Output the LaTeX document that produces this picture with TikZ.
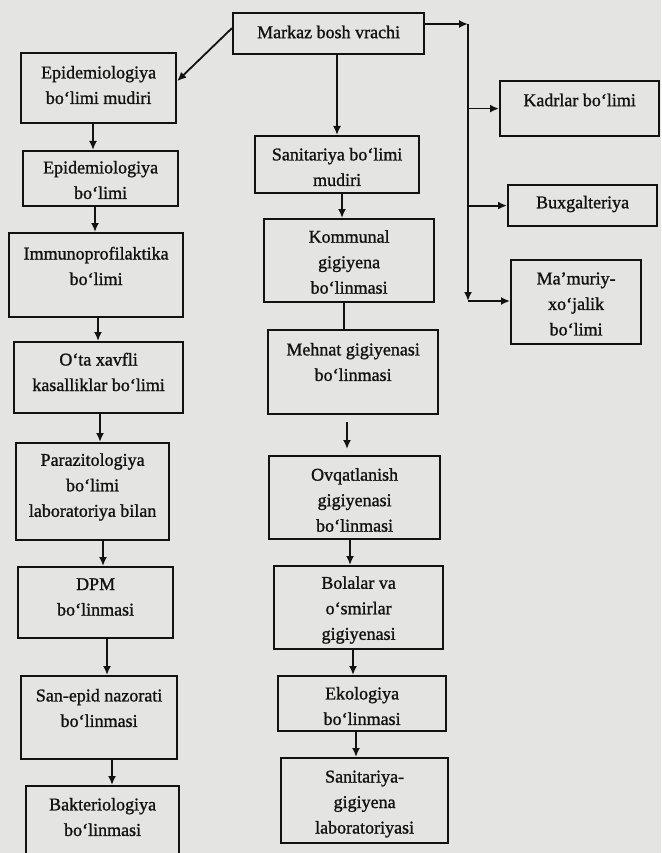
\documentclass[tikz,border=0pt]{standalone}
\usepackage{fontspec}
\setmainfont{Liberation Serif}[FakeBold=1.2]
\usetikzlibrary{arrows.meta,calc}
\definecolor{paper}{RGB}{228,228,226}
\definecolor{ink}{RGB}{18,18,18}
\tikzset{
 boxst/.style={draw=ink, line width=2.2pt, fill=paper, inner sep=0pt, anchor=north west},
 lbl/.style={align=center, font=\fontsize{18}{25.5}\selectfont, text=ink, inner sep=0pt},
 conn/.style={draw=ink, line width=1.8pt},
 arr/.style={conn, -{Latex[length=9pt,width=8pt]}},
}
\newcommand\mybox[7]{%
 \node[boxst, minimum width={(#4-#2)*1pt}, minimum height={(#5-#3)*1pt}] (#1) at (#2,#3) {};
 \node[lbl] (#1-t) at (#1.center |- 0,#6) {#7};
}
\begin{document}
\begin{tikzpicture}[x=1pt,y=-1pt]
\useasboundingbox (0,0) rectangle (661,853);
\clip (0,0) rectangle (661,853);
\fill[paper] (0,0) rectangle (661,853);
\mybox{markaz}{232}{12}{423}{53}{32}{Markaz bosh vrachi}
\mybox{epidm}{20}{52}{175}{122}{85}{Epidemiologiya\\bo‘limi mudiri}
\mybox{epidb}{22}{150}{177}{205}{180}{Epidemiologiya\\bo‘limi}
\mybox{immuno}{8}{232}{182}{316}{266}{Immunoprofilaktika\\bo‘limi}
\mybox{ota}{13}{341}{182}{412}{372}{O‘ta xavfli\\kasalliklar bo‘limi}
\mybox{parazit}{15}{442}{168}{539}{487}{Parazitologiya\\bo‘limi\\laboratoriya bilan}
\mybox{dpm}{17}{566}{172}{637}{597}{DPM\\bo‘linmasi}
\mybox{sanepid}{20}{675}{176}{758}{708}{San-epid nazorati\\bo‘linmasi}
\mybox{bakt}{25}{785}{178}{880}{817}{Bakteriologiya\\bo‘linmasi}
\mybox{sanm}{254}{135}{418}{192}{167}{Sanitariya bo‘limi\\mudiri}
\mybox{komm}{263}{218}{433}{301}{262}{Kommunal\\gigiyena\\bo‘linmasi}
\mybox{mehnat}{267}{329}{437}{413}{362}{Mehnat gigiyenasi\\bo‘linmasi}
\mybox{ovq}{268}{455}{439}{538}{500}{Ovqatlanish\\gigiyenasi\\bo‘linmasi}
\mybox{bolalar}{273}{565}{442}{648}{610}{Bolalar va\\o‘smirlar\\gigiyenasi}
\mybox{eko}{277}{675}{445}{730}{706}{Ekologiya\\bo‘linmasi}
\mybox{sglab}{280}{757}{447}{842}{804}{Sanitariya-\\gigiyena\\laboratoriyasi}
\mybox{kadr}{499}{80}{658}{135}{100}{Kadrlar bo‘limi}
\mybox{bux}{507}{184}{656}{225}{204}{Buxgalteriya}
\mybox{mamur}{510}{259}{640}{343}{304}{Ma’muriy-\\xo‘jalik\\bo‘limi}
% left column
\draw[arr] ([yshift=5.5pt]markaz.west) -- ([yshift=7pt]epidm.east);
\draw[arr] (93,0 |- epidm.south) -- (93,0 |- epidb.north);
\draw[arr] (95,0 |- epidb.south) -- (95,0 |- immuno.north);
\draw[arr] (98,0 |- immuno.south) -- (98,0 |- ota.north);
\draw[arr] (100,0 |- ota.south) -- (100,0 |- parazit.north);
\draw[arr] (103,0 |- parazit.south) -- (103,0 |- dpm.north);
\draw[arr] (107,0 |- dpm.south) -- (107,0 |- sanepid.north);
\draw[arr] (112,0 |- sanepid.south) -- (112,0 |- bakt.north);
% middle column
\draw[arr] (337,0 |- markaz.south) -- (337,0 |- sanm.north);
\draw[arr] (342,0 |- sanm.south) -- (342,0 |- komm.north);
\draw[conn] (344,0 |- komm.south) -- (344,0 |- mehnat.north);
\draw[arr, shorten <=7pt, shorten >=6pt] (347,0 |- mehnat.south) -- (347,0 |- ovq.north);
\draw[arr] (350,0 |- ovq.south) -- (350,0 |- bolalar.north);
\draw[arr] (353,0 |- bolalar.south) -- (353,0 |- eko.north);
\draw[arr] (356,0 |- eko.south) -- (356,0 |- sglab.north);
% right column
\coordinate (c1) at (468,24);
\coordinate (c2) at (468,301);
\draw[arr] (markaz.east |- c1) -- (c1);
\draw[arr] (c1) -- (c2);
\draw[arr] (c1 |- kadr.west) -- (kadr.west);
\draw[arr] (c1 |- bux.west) -- (bux.west);
\draw[arr] (c2) -- (c2 -| mamur.west);
\end{tikzpicture}
\end{document}
